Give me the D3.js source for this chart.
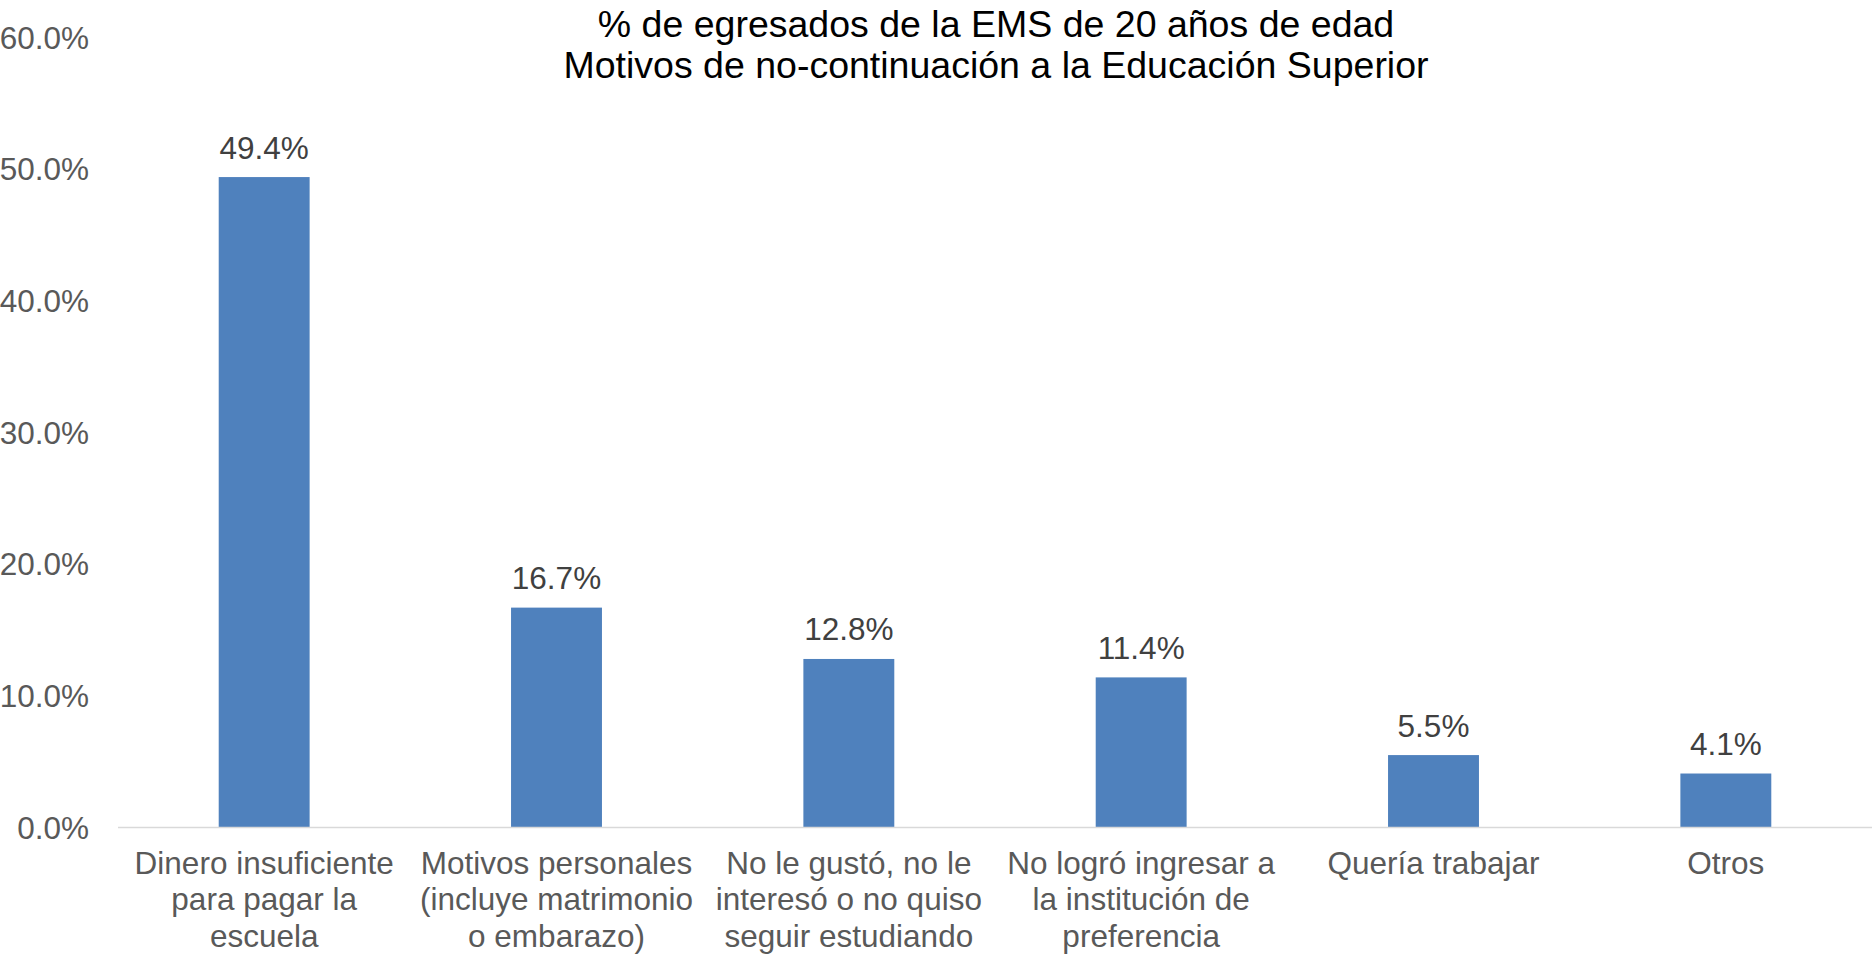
<!DOCTYPE html>
<html>
<head>
<meta charset="utf-8">
<script src="https://cdn.jsdelivr.net/npm/d3@7"></script>
<style>
    body { margin: 0; background: #fff; }
    svg { display: block; font-family: "Liberation Sans", Arial, sans-serif; }
</style>
</head>
<body>
<div id="chart"></div>
<script>
// data
var titleLines = ["% de egresados de la EMS de 20 años de edad", "Motivos de no-continuación a la Educación Superior"];
var categories = [
    "Dinero insuficiente para pagar la escuela",
    "Motivos personales (incluye matrimonio o embarazo)",
    "No le gustó, no le interesó o no quiso seguir estudiando",
    "No logró ingresar a la institución de preferencia",
    "Quería trabajar",
    "Otros"
];
var values = [49.4, 16.7, 12.8, 11.4, 5.5, 4.1];
var yTicks = [0, 10, 20, 30, 40, 50, 60];

var width = 1874, height = 966;
var margin = { top: 37.5, right: 2, bottom: 138.5, left: 118 };

var svg = d3.select("#chart")
    .append("svg")
    .attr("width", width)
    .attr("height", height);

var x = d3.scaleBand()
    .domain(categories)
    .range([margin.left, width - margin.right])
    .paddingInner(0.689)
    .paddingOuter(0.3445);

var y = d3.scaleLinear()
    .domain([0, 60])
    .range([height - margin.bottom, margin.top]);

// wrap text into lines
function wrap(text, maxWidth) {
    text.each(function () {
        var text = d3.select(this),
            words = text.text().split(/\s+/).reverse(),
            word,
            line = [],
            lineNumber = 0,
            lineHeight = 36.5,
            tspan = text.text(null).append("tspan").attr("x", 0).attr("y", 0);
        while (word = words.pop()) {
            line.push(word);
            tspan.text(line.join(" "));
            if (tspan.node().getComputedTextLength() > maxWidth && line.length > 1) {
                line.pop();
                tspan.text(line.join(" "));
                line = [word];
                tspan = text.append("tspan").attr("x", 0).attr("y", ++lineNumber * lineHeight).text(word);
            }
        }
    });
}

// y axis (labels only)
var yAxis = d3.axisLeft(y)
    .tickValues(yTicks)
    .tickSize(0)
    .tickPadding(0)
    .tickFormat(function (d) { return d.toFixed(1) + "%"; });

var gy = svg.append("g")
    .attr("transform", "translate(89,0)")
    .call(yAxis);
gy.select(".domain").remove();
gy.selectAll(".tick text")
    .attr("fill", "#595959")
    .attr("font-size", "31.5px")
    .attr("font-family", "Liberation Sans, Arial, sans-serif")
    .attr("dy", "10.5px");

// bars
svg.append("g")
    .selectAll("rect")
    .data(values)
    .join("rect")
    .attr("x", function (d, i) { return x(categories[i]); })
    .attr("y", function (d) { return y(d); })
    .attr("width", x.bandwidth())
    .attr("height", function (d) { return y(0) - y(d); })
    .attr("fill", "#4f81bd");

// baseline
svg.append("line")
    .attr("x1", margin.left)
    .attr("x2", width - margin.right)
    .attr("y1", y(0))
    .attr("y2", y(0))
    .attr("stroke", "#d9d9d9")
    .attr("stroke-width", 1.5);

// data labels
svg.append("g")
    .selectAll("text")
    .data(values)
    .join("text")
    .attr("x", function (d, i) { return x(categories[i]) + x.bandwidth() / 2; })
    .attr("y", function (d) { return y(d) - 18.5; })
    .attr("text-anchor", "middle")
    .attr("font-size", "31.5px")
    .attr("fill", "#404040")
    .text(function (d) { return d.toFixed(1) + "%"; });

// x axis labels
var xAxis = d3.axisBottom(x).tickSize(0).tickPadding(0);
var gx = svg.append("g")
    .attr("transform", "translate(0," + (y(0) + 46) + ")")
    .call(xAxis);
gx.select(".domain").remove();
gx.selectAll(".tick text")
    .attr("fill", "#595959")
    .attr("font-size", "31.5px")
    .attr("font-family", "Liberation Sans, Arial, sans-serif")
    .attr("dy", null)
    .call(wrap, x.bandwidth() / (1 - 0.689) - 8);

// title
svg.append("text")
    .attr("text-anchor", "middle")
    .attr("font-size", "37.5px")
    .attr("fill", "#000")
    .selectAll("tspan")
    .data(titleLines)
    .join("tspan")
    .attr("x", 996)
    .attr("y", function (d, i) { return 36.5 + i * 41.5; })
    .text(function (d) { return d; });
</script>
</body>
</html>
